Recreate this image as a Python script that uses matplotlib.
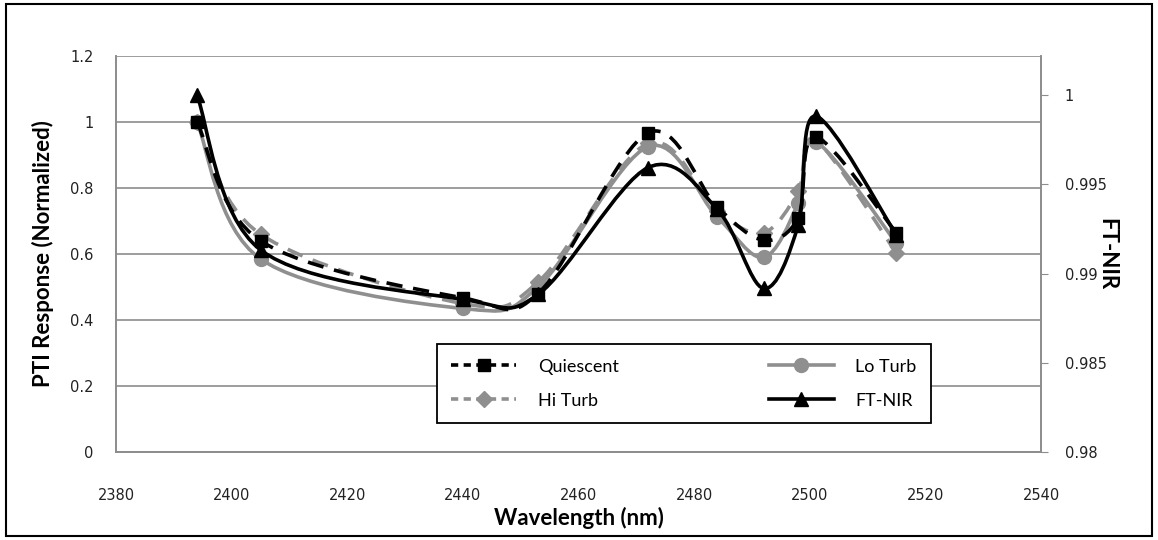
import matplotlib
matplotlib.use("Agg")
import matplotlib.pyplot as plt
import numpy as np
from matplotlib.path import Path
from matplotlib.patches import PathPatch, Rectangle
from matplotlib.lines import Line2D

# wavelengths (nm)
wavelength = [2394, 2405, 2440, 2453, 2472, 2484, 2492, 2498, 2501, 2515]

# PTI response, normalized (left axis)
quiescent = [1.00, 0.64, 0.467, 0.48, 0.967, 0.742, 0.642, 0.71, 0.955, 0.664]
lo_turb = [1.00, 0.585, 0.435, 0.50, 0.925, 0.712, 0.59, 0.755, 0.94, 0.633]
hi_turb = [1.00, 0.66, 0.45, 0.515, 0.935, 0.73, 0.665, 0.79, 0.945, 0.603]

# FT-NIR (right axis)
ft_nir = [1.0, 0.99133, 0.98856, 0.98883, 0.99594, 0.99361, 0.98917, 0.99272, 0.99883, 0.99217]

GRAY = "#8f8f8f"
GRID = "#8c8c8c"
LABEL_FONT = ["Lato", "DejaVu Sans"]


def smooth_path(x, y):
    # Excel-style smoothed line: cubic Bezier through every point
    pts = np.column_stack([x, y]).astype(float)
    verts = [pts[0]]
    codes = [Path.MOVETO]
    n = len(pts)
    for i in range(n - 1):
        p0 = pts[max(i - 1, 0)]
        p1 = pts[i]
        p2 = pts[i + 1]
        p3 = pts[min(i + 2, n - 1)]
        c1 = p1 + (p2 - p0) / 6.0
        c2 = p2 - (p3 - p1) / 6.0
        verts += [c1, c2, p2]
        codes += [Path.CURVE4] * 3
    return Path(verts, codes)


def add_series(axis, x, y, color, ls, marker, msize, z):
    patch = PathPatch(smooth_path(x, y), fill=False, edgecolor=color,
                      linewidth=2.6, linestyle=ls, zorder=z,
                      capstyle="butt", joinstyle="round")
    axis.add_patch(patch)
    axis.plot(x, y, linestyle="none", marker=marker, markersize=msize,
              color=color, markeredgecolor=color, zorder=z + 0.5)


fig = plt.figure(figsize=(11.58, 5.4), dpi=100)
ax = fig.add_axes([116 / 1158, 1 - 452 / 540, 925 / 1158, 396 / 540])
ax2 = ax.twinx()

dash = (0, (4.5, 3))
add_series(ax, wavelength, lo_turb, GRAY, "-", "o", 10, 3)
add_series(ax, wavelength, hi_turb, GRAY, dash, "D", 8, 4)
add_series(ax, wavelength, quiescent, "black", dash, "s", 9, 5)
add_series(ax2, wavelength, ft_nir, "black", "-", "^", 10, 6)

ax.set_xlim(2380, 2540)
ax.set_ylim(0, 1.2)
ax2.set_ylim(0.98, 1.0022)
ax.set_xticks(np.arange(2380, 2541, 20))
ax.set_yticks(np.arange(0, 1.21, 0.2))
ax.set_yticklabels(["0", "0.2", "0.4", "0.6", "0.8", "1", "1.2"])
ax2.set_yticks([0.98, 0.985, 0.99, 0.995, 1.0])
ax2.set_yticklabels(["0.98", "0.985", "0.99", "0.995", "1"])

ax.yaxis.grid(True, color=GRID, linewidth=1.2)
ax.set_axisbelow(True)
for a in (ax, ax2):
    for s in a.spines.values():
        s.set_color(GRID)
        s.set_linewidth(1.2)
ax.spines["top"].set_visible(False)
ax2.spines["top"].set_visible(False)

ax.tick_params(axis="x", length=0, pad=26, labelsize=10.5, labelcolor="#222222")
ax.tick_params(axis="y", length=0, pad=16, labelsize=10.5, labelcolor="#222222")
ax2.tick_params(axis="y", length=5, color=GRID, pad=12, labelsize=10.5,
                labelcolor="#222222")

ax.set_xlabel("Wavelength (nm)", fontsize=16, fontweight="bold",
              family=LABEL_FONT, labelpad=3)
ax.set_ylabel("PTI Response (Normalized)", fontsize=16, fontweight="bold",
              family=LABEL_FONT, labelpad=12)
ax2.set_ylabel("FT-NIR", fontsize=16, fontweight="bold", family=LABEL_FONT,
               rotation=-90, labelpad=8)

handles = [
    Line2D([], [], color="black", ls=(0, (2, 1.5)), lw=2.6, marker="s", markersize=9),
    Line2D([], [], color=GRAY, ls=(0, (2, 1.5)), lw=2.6, marker="D", markersize=8),
    Line2D([], [], color=GRAY, ls="-", lw=2.6, marker="o", markersize=10),
    Line2D([], [], color="black", ls="-", lw=2.6, marker="^", markersize=10),
]
labels = ["Quiescent", "Hi Turb", "Lo Turb", "FT-NIR"]
leg = ax2.legend(handles, labels, ncol=2, loc="lower left",
                 bbox_to_anchor=(0.337, 0.05, 0.554, 0.213), mode="expand",
                 fancybox=False, edgecolor="black", framealpha=1,
                 handlelength=3.6, handletextpad=1.2, borderpad=0.8,
                 labelspacing=1.0, columnspacing=2.5,
                 prop={"family": LABEL_FONT, "size": 13})
leg.get_frame().set_linewidth(1.3)
leg.set_zorder(10)

fig.patches.append(Rectangle((6 / 1158, 4 / 540), 1146 / 1158, 532 / 540,
                             transform=fig.transFigure, fill=False,
                             edgecolor="black", linewidth=1.5))

fig.savefig("out.png", dpi=100)
